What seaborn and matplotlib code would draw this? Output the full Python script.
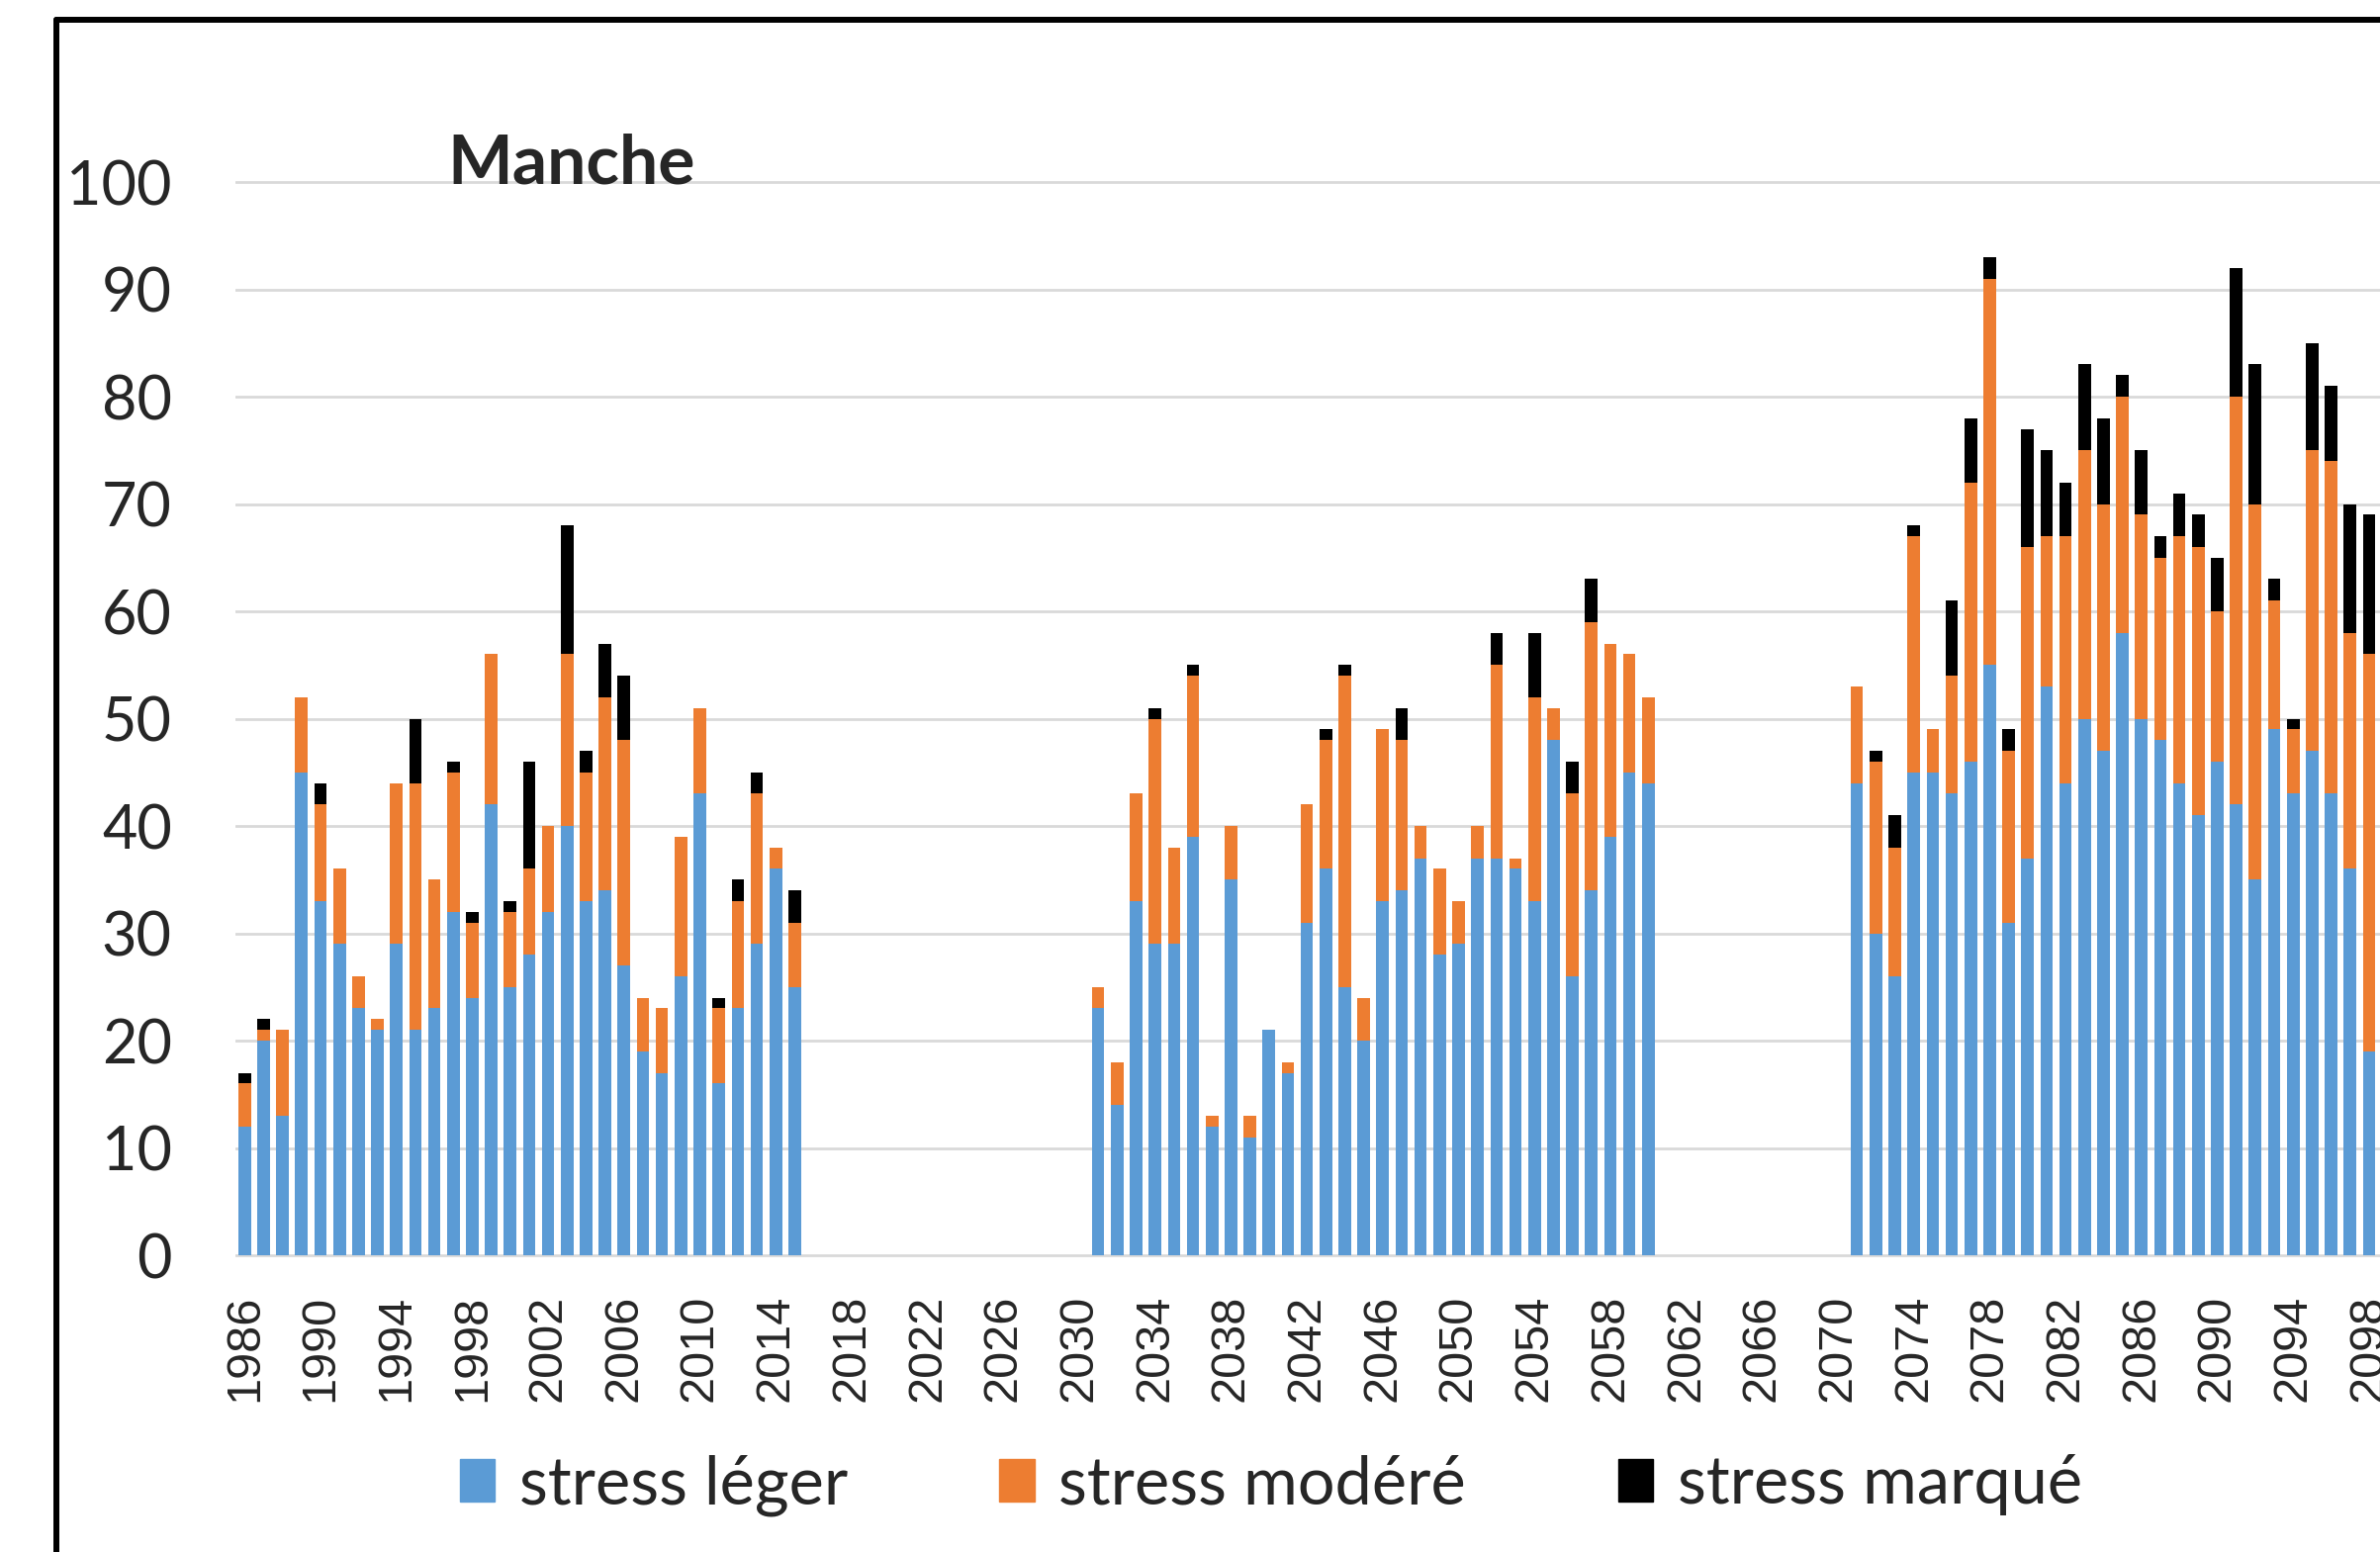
import matplotlib
matplotlib.use("Agg")
import matplotlib.pyplot as plt
import matplotlib.patches as mpatches
from matplotlib.lines import Line2D
import pandas as pd
import seaborn as sns

# ==========
# DATA
# ==========

annees = list(range(1986, 2016)) + list(range(2031, 2061)) + list(range(2071, 2099))

# nombre de jours par annee, pour chaque niveau de stress
stress_leger = [
    12, 20, 13, 45, 33, 29, 23, 21, 29, 21, 23, 32, 24, 42, 25,
    28, 32, 40, 33, 34, 27, 19, 17, 26, 43, 16, 23, 29, 36, 25,
    23, 14, 33, 29, 29, 39, 12, 35, 11, 21, 17, 31, 36, 25, 20,
    33, 34, 37, 28, 29, 37, 37, 36, 33, 48, 26, 34, 39, 45, 44,
    44, 30, 26, 45, 45, 43, 46, 55, 31, 37, 53, 44, 50, 47,
    58, 50, 48, 44, 41, 46, 42, 35, 49, 43, 47, 43, 36, 19,
]
stress_modere = [
    4, 1, 8, 7, 9, 7, 3, 1, 15, 23, 12, 13, 7, 14, 7,
    8, 8, 16, 12, 18, 21, 5, 6, 13, 8, 7, 10, 14, 2, 6,
    2, 4, 10, 21, 9, 15, 1, 5, 2, 0, 1, 11, 12, 29, 4,
    16, 14, 3, 8, 4, 3, 18, 1, 19, 3, 17, 25, 18, 11, 8,
    9, 16, 12, 22, 4, 11, 26, 36, 16, 29, 14, 23, 25, 23,
    22, 19, 17, 23, 25, 14, 38, 35, 12, 6, 28, 31, 22, 37,
]
stress_marque = [
    1, 1, 0, 0, 2, 0, 0, 0, 0, 6, 0, 1, 1, 0, 1,
    10, 0, 12, 2, 5, 6, 0, 0, 0, 0, 1, 2, 2, 0, 3,
    0, 0, 0, 1, 0, 1, 0, 0, 0, 0, 0, 0, 1, 1, 0,
    0, 3, 0, 0, 0, 0, 3, 0, 6, 0, 3, 4, 0, 0, 0,
    0, 1, 3, 1, 0, 7, 6, 2, 2, 11, 8, 5, 8, 8,
    2, 6, 2, 4, 3, 5, 12, 13, 2, 1, 10, 7, 12, 13,
]

noms = ["stress léger", "stress modéré", "stress marqué"]
couleurs = ["#5B9BD5", "#ED7D31", "#000000"]

toutes_annees = [str(a) for a in range(1986, 2101)]

df = pd.DataFrame({
    "annee": [str(a) for a in annees],
    "leger": stress_leger,
    "modere": stress_modere,
    "marque": stress_marque,
})
df["cum_modere"] = df["leger"] + df["modere"]
df["cum_marque"] = df["cum_modere"] + df["marque"]

# ==========
# PLOT
# ==========

sns.set_style("white")
plt.rcParams["font.family"] = ["Lato", "DejaVu Sans"]

fig = plt.figure(figsize=(24.06, 15.69), dpi=100)
ax = fig.add_axes([0.0988, 0.1891, 0.9165, 0.6957])

# stacked bars drawn back to front
for col, c in zip(["cum_marque", "cum_modere", "leger"], couleurs[::-1]):
    sns.barplot(data=df, x="annee", y=col, order=toutes_annees, color=c,
                width=0.66, errorbar=None, saturation=1, linewidth=0, ax=ax)

ax.set_xlim(-0.5, len(toutes_annees) - 0.5)
ax.set_ylim(-0.3, 100.3)
ax.set_yticks(range(0, 101, 10))
ax.grid(axis="y", color="#d9d9d9", linewidth=2)
ax.set_axisbelow(True)
sns.despine(ax=ax, left=True, bottom=True)
ax.set_xlabel("")
ax.set_ylabel("")

pos = list(range(0, len(toutes_annees), 4))
ax.set_xticks(pos)
ax.set_xticklabels([toutes_annees[p] for p in pos], rotation=90,
                   family=["Liberation Sans", "DejaVu Sans"], fontsize=35)
ax.tick_params(axis="x", length=0, pad=26)
ax.tick_params(axis="y", length=0, pad=46, labelsize=44)

fig.text(0.188, 0.894, "Manche", fontsize=50, fontweight="bold",
         ha="left", va="center")

handles = [mpatches.Patch(color=c) for c in couleurs]
fig.legend(handles, noms, loc="center", bbox_to_anchor=(0.534, 0.0430),
           ncol=3, frameon=False, fontsize=48, handlelength=0.53,
           handleheight=0.62, handletextpad=0.37, columnspacing=2.3)

# cadre du graphique (coupe a droite et en bas)
fig.add_artist(Line2D([0.0237, 0.0237], [0, 0.9873], color="black",
                      linewidth=4.3, transform=fig.transFigure))
fig.add_artist(Line2D([0.0237, 1], [0.9873, 0.9873], color="black",
                      linewidth=4.3, transform=fig.transFigure))

fig.savefig("out.png", dpi=100)
